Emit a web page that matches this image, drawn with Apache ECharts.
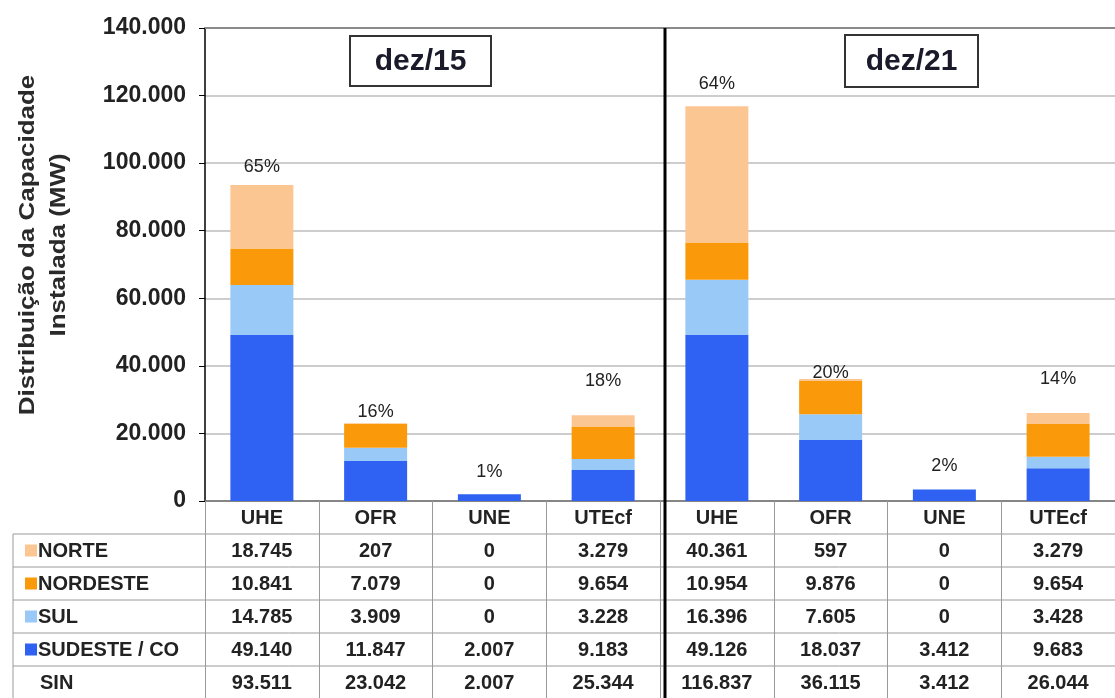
<!DOCTYPE html>
<html>
<head>
<meta charset="utf-8">
<script src="https://cdn.jsdelivr.net/npm/echarts@6/dist/echarts.min.js"></script>
<style>
    html, body { margin: 0; padding: 0; background: #fff; }
    #capacidade { width: 1115px; height: 698px; }
</style>
</head>
<body>
<div id="capacidade"></div>
<script>
// dados (MW)
var categorias = ['UHE', 'OFR', 'UNE', 'UTEcf', 'UHE', 'OFR', 'UNE', 'UTEcf'];
var periodos = ['dez/15', 'dez/21'];
var regioes = ['NORTE', 'NORDESTE', 'SUL', 'SUDESTE / CO'];
var norte = [18745, 207, 0, 3279, 40361, 597, 0, 3279];
var nordeste = [10841, 7079, 0, 9654, 10954, 9876, 0, 9654];
var sul = [14785, 3909, 0, 3228, 16396, 7605, 0, 3428];
var sudeste = [49140, 11847, 2007, 9183, 49126, 18037, 3412, 9683];
var sin = [93511, 23042, 2007, 25344, 116837, 36115, 3412, 26044];
var participacao = ['65%', '16%', '1%', '18%', '64%', '20%', '2%', '14%'];

var cores = ['#FCC692', '#FA9A0A', '#98C9F7', '#2F62F2'];
var fonte = "'Liberation Sans', Arial, sans-serif";

// layout
var gLeft = 205, gTop = 28, gWidth = 920, gHeight = 473;
var gBottom = gTop + gHeight;
var rowH = 33;
// deslocamento manual dos rótulos de %
var labelDy = [-4, 3, -8, -20, -8, 8, -9, -20];

function fmt(v) {
    return String(v).replace(/\B(?=(\d{3})+(?!\d))/g, '.');
}

var myChart = echarts.init(document.getElementById('capacidade'));

var linhasTabela = [norte, nordeste, sul, sudeste, sin];
var nomesLinhas = regioes.concat(['SIN']);

var xAxes = [{
    type: 'category',
    data: categorias,
    position: 'bottom',
    axisLine: { lineStyle: { color: '#6f6f6f', width: 1.5 } },
    axisTick: { show: true, interval: 0, length: 197, lineStyle: { color: '#9a9a9a', width: 1 } },
    axisLabel: { interval: 0, margin: 7, color: '#222', fontFamily: fonte, fontWeight: 'bold', fontSize: 20 }
}];
linhasTabela.forEach(function (linha, r) {
    xAxes.push({
        type: 'category',
        data: linha.map(fmt),
        position: 'bottom',
        offset: rowH * (r + 1),
        axisLine: { show: false },
        axisTick: { show: false },
        axisLabel: { interval: 0, margin: 7, color: '#222', fontFamily: fonte, fontWeight: 'bold', fontSize: 20 }
    });
});

var serieDados = [sudeste, sul, nordeste, norte];
var serieNomes = ['SUDESTE / CO', 'SUL', 'NORDESTE', 'NORTE'];
var serieCores = [cores[3], cores[2], cores[1], cores[0]];
var series = serieDados.map(function (d, i) {
    var s = {
        name: serieNomes[i],
        type: 'bar',
        stack: 'total',
        barWidth: 63,
        itemStyle: { color: serieCores[i] },
        data: d.slice()
    };
    if (i === 3) {
        s.data = d.map(function (v, k) {
            return { value: v, label: { offset: [0, labelDy[k]] } };
        });
        s.label = {
            show: true,
            position: 'top',
            color: '#222',
            fontFamily: fonte,
            fontSize: 18,
            formatter: function (p) { return participacao[p.dataIndex]; }
        };
    }
    return s;
});

// tabela e moldura
var graficos = [];
graficos.push({
    type: 'line', shape: { x1: gLeft, y1: gTop, x2: 1115, y2: gTop },
    style: { stroke: '#8a8a8a', lineWidth: 2 }, z: 10
});
for (var r = 1; r <= 5; r++) {
    var y = gBottom + rowH * r;
    graficos.push({
        type: 'line', shape: { x1: 13, y1: y, x2: 1115, y2: y },
        style: { stroke: '#9a9a9a', lineWidth: 1 }
    });
}
graficos.push({
    type: 'line', shape: { x1: 13, y1: gBottom + rowH, x2: 13, y2: 698 },
    style: { stroke: '#9a9a9a', lineWidth: 1 }
});
graficos.push({
    type: 'line', shape: { x1: gLeft + gWidth / 2, y1: gTop, x2: gLeft + gWidth / 2, y2: 698 },
    style: { stroke: '#000', lineWidth: 3 }, z: 10
});
nomesLinhas.forEach(function (nome, i) {
    var cy = gBottom + rowH * (i + 1) + rowH / 2;
    if (i < 4) {
        graficos.push({
            type: 'rect', shape: { x: 25, y: cy - 6, width: 12, height: 12 },
            style: { fill: cores[i] }
        });
    }
    graficos.push({
        type: 'text', x: i < 4 ? 38 : 40, y: cy + 1,
        style: {
            text: nome, fill: '#222', font: 'bold 20px ' + fonte,
            align: 'left', verticalAlign: 'middle'
        }
    });
});
// caixas dos períodos
var caixas = [[350, 36, 141, 50], [845, 35, 133, 52]];
periodos.forEach(function (p, i) {
    var c = caixas[i];
    graficos.push({
        type: 'rect', shape: { x: c[0], y: c[1], width: c[2], height: c[3] },
        style: { fill: '#fff', stroke: '#333', lineWidth: 2 }, z: 20
    });
    graficos.push({
        type: 'text', x: c[0] + c[2] / 2, y: c[1] + c[3] / 2 + 1,
        style: {
            text: p, fill: '#1a1a2a', font: 'bold 30px ' + fonte,
            align: 'center', verticalAlign: 'middle'
        }, z: 21
    });
});
// título do eixo Y
graficos.push({
    type: 'text', x: 43, y: 245, rotation: Math.PI / 2, scaleX: 1.18,
    style: {
        text: 'Distribuição da Capacidade\nInstalada (MW)', fill: '#2a2a2a',
        font: 'bold 22px ' + fonte, lineHeight: 31,
        align: 'center', verticalAlign: 'middle'
    }
});

option = {
    animation: false,
    backgroundColor: '#fff',
    grid: { left: gLeft, top: gTop, width: gWidth, height: gHeight },
    xAxis: xAxes,
    yAxis: {
        type: 'value',
        min: 0,
        max: 140000,
        interval: 20000,
        axisLine: { show: true, lineStyle: { color: '#000', width: 1.5 } },
        axisTick: { show: true, length: 6, lineStyle: { color: '#000' } },
        axisLabel: {
            margin: 19, color: '#222', fontFamily: fonte, fontWeight: 'bold', fontSize: 23,
            formatter: function (v) { return fmt(v); }
        },
        splitLine: { lineStyle: { color: '#bdbdbd', width: 1.5 } }
    },
    series: series,
    graphic: graficos
};
myChart.setOption(option);
</script>
</body>
</html>
